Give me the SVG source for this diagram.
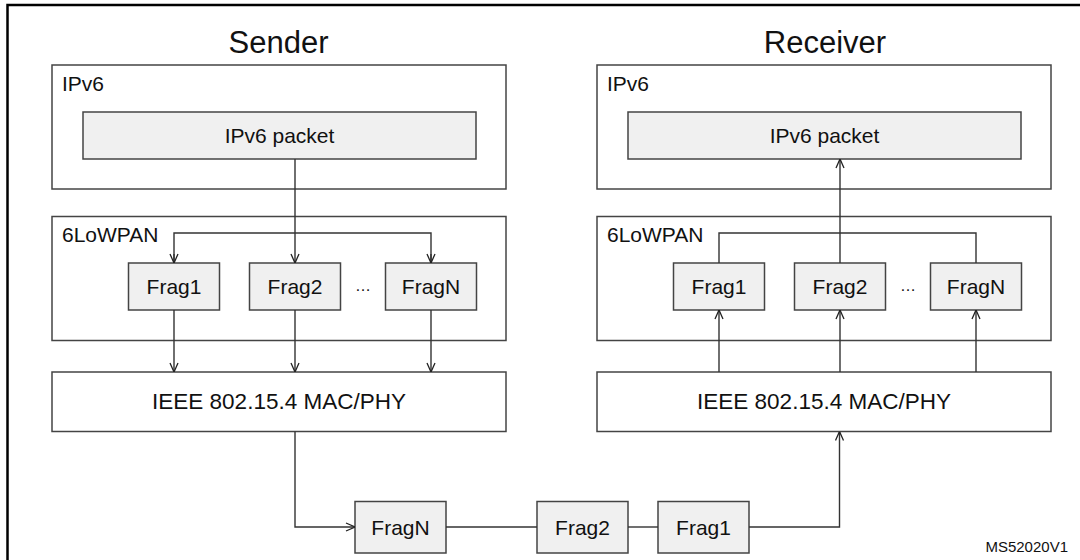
<svg xmlns="http://www.w3.org/2000/svg" width="1080" height="560" viewBox="0 0 1080 560">
<defs>
<marker id="arr" viewBox="0 0 10 10" refX="10" refY="5" markerWidth="10" markerHeight="10" markerUnits="userSpaceOnUse" orient="auto">
<path d="M1,1 L10,5 L1,9" fill="none" stroke="#222" stroke-width="1.3"/>
</marker>
<style>
text{font-family:"Liberation Sans",Arial,sans-serif;fill:#111;}
.title{font-size:31px;text-anchor:middle;}
.lbl{font-size:21px;}
.ctr{font-size:21px;text-anchor:middle;}
.mac{font-size:22.5px;text-anchor:middle;}
.cont{fill:#fff;stroke:#444;stroke-width:1.5;}
.item{fill:#f0f0f0;stroke:#444;stroke-width:1.5;}
.ln{fill:none;stroke:#333;stroke-width:1.4;}
.dots{font-size:16px;text-anchor:middle;}
.id{font-size:15px;text-anchor:end;}
</style>
</defs>
<rect x="7.5" y="5" width="1090" height="570" fill="#fff" stroke="#000" stroke-width="2.5"/>
<text class="title" x="278.5" y="53">Sender</text>
<text class="title" x="825" y="53">Receiver</text>

<g id="s-ipv6"><rect class="cont" x="52" y="65" width="454" height="124"/><text class="lbl" x="62" y="91">IPv6</text></g>
<g id="s-packet"><rect class="item" x="83" y="112" width="393" height="47"/><text class="ctr" x="279.5" y="143">IPv6 packet</text></g>
<g id="s-6lowpan"><rect class="cont" x="52" y="216.5" width="454" height="124"/><text class="lbl" x="62" y="242">6LoWPAN</text></g>
<g id="s-frag1"><rect class="item" x="128.5" y="263" width="91" height="47"/><text class="ctr" x="174" y="294">Frag1</text></g>
<g id="s-frag2"><rect class="item" x="249.5" y="263" width="91" height="47"/><text class="ctr" x="295" y="294">Frag2</text></g>
<g id="s-fragn"><rect class="item" x="385.5" y="263" width="91" height="47"/><text class="ctr" x="431" y="294">FragN</text></g>
<text class="dots" x="363" y="291">…</text>
<g id="s-mac"><rect class="cont" x="52" y="372" width="454" height="59.5"/><text class="mac" x="279" y="409">IEEE 802.15.4 MAC/PHY</text></g>

<g id="r-ipv6"><rect class="cont" x="597" y="65" width="454" height="124"/><text class="lbl" x="607" y="91">IPv6</text></g>
<g id="r-packet"><rect class="item" x="628" y="112" width="393" height="47"/><text class="ctr" x="824.5" y="143">IPv6 packet</text></g>
<g id="r-6lowpan"><rect class="cont" x="597" y="216.5" width="454" height="124"/><text class="lbl" x="607" y="242">6LoWPAN</text></g>
<g id="r-frag1"><rect class="item" x="673.5" y="263" width="91" height="47"/><text class="ctr" x="719" y="294">Frag1</text></g>
<g id="r-frag2"><rect class="item" x="794.5" y="263" width="91" height="47"/><text class="ctr" x="840" y="294">Frag2</text></g>
<g id="r-fragn"><rect class="item" x="930.5" y="263" width="91" height="47"/><text class="ctr" x="976" y="294">FragN</text></g>
<text class="dots" x="908" y="291">…</text>
<g id="r-mac"><rect class="cont" x="597" y="372" width="454" height="59.5"/><text class="mac" x="824" y="409">IEEE 802.15.4 MAC/PHY</text></g>

<g id="b-fragn"><rect class="item" x="355" y="501.5" width="91" height="51.5"/><text class="ctr" x="400.5" y="535">FragN</text></g>
<g id="b-frag2"><rect class="item" x="537" y="501.5" width="91" height="51.5"/><text class="ctr" x="582.5" y="535">Frag2</text></g>
<g id="b-frag1"><rect class="item" x="658" y="501.5" width="91" height="51.5"/><text class="ctr" x="703.5" y="535">Frag1</text></g>

<text class="id" x="1068" y="552">MS52020V1</text>

<g id="connectors">
<path class="ln" d="M295,159 V263" marker-end="url(#arr)"/>
<path class="ln" d="M174,263 V233 H431 V263"/>
<path class="ln" d="M174,254 V263" marker-end="url(#arr)"/>
<path class="ln" d="M431,254 V263" marker-end="url(#arr)"/>
<path class="ln" d="M174,310 V372" marker-end="url(#arr)"/>
<path class="ln" d="M295,310 V372" marker-end="url(#arr)"/>
<path class="ln" d="M431,310 V372" marker-end="url(#arr)"/>
<path class="ln" d="M295,431.5 V527 H355" marker-end="url(#arr)"/>
<path class="ln" d="M446,527 H537"/>
<path class="ln" d="M628,527 H658"/>
<path class="ln" d="M749,527 H839.5 V431.5" marker-end="url(#arr)"/>
<path class="ln" d="M719,372 V310" marker-end="url(#arr)"/>
<path class="ln" d="M840,372 V310" marker-end="url(#arr)"/>
<path class="ln" d="M976,372 V310" marker-end="url(#arr)"/>
<path class="ln" d="M719,263 V233 H976 V263"/>
<path class="ln" d="M840,263 V159" marker-end="url(#arr)"/>
</g>
</svg>
